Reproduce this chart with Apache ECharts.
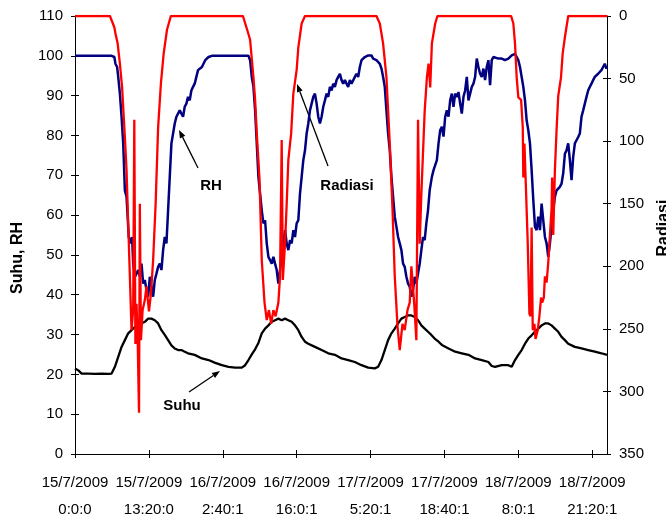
<!DOCTYPE html>
<html>
<head>
<meta charset="utf-8">
<script src="https://cdn.jsdelivr.net/npm/echarts@6/dist/echarts.min.js"></script>
<style>
  html, body { margin: 0; background: #fff; }
  #chart { width: 666px; height: 520px; }
</style>
</head>
<body>
<div id="chart"></div>
<script>
// hours counted from 15/7/2009 0:0:0, one tick label every 13h20m
const xTickLabels = [
  '15/7/2009\n0:0:0', '15/7/2009\n13:20:0', '16/7/2009\n2:40:1', '16/7/2009\n16:0:1',
  '17/7/2009\n5:20:1', '17/7/2009\n18:40:1', '18/7/2009\n8:0:1', '18/7/2009\n21:20:1'
];
const leftTicks = { min: 0, max: 110, step: 10 };
const rightTicks = { min: 0, max: 350, step: 50 };

// [hour, RH]
const rh = [
  [0,100],[6.6,100],[7.1,99.7],[7.3,98.0],[7.6,97.2],[7.8,94.7],[8.1,90.5],[8.4,84.7],[8.7,78.0],[9.0,66.2],
  [9.3,64.6],[9.5,59.6],[9.7,54.5],[10.1,52.9],[10.3,54.5],[10.5,47.8],[10.8,44.5],[11.1,45.3],[11.4,46.2],[11.7,44.5],
  [12.0,47.8],[12.3,42.8],[12.6,43.7],[12.9,41.2],[13.2,39.5],[13.5,44.5],[13.8,42.0],[14.1,39.5],[14.4,43.7],[14.7,45.3],
  [15.0,47.0],[15.3,47.8],[15.6,46.2],[15.9,51.2],[16.2,54.5],[16.5,52.9],[16.8,61.2],[17.1,69.6],[17.4,78.0],[17.7,80.5],
  [18.0,83.0],[18.3,84.7],[18.6,84.7],[18.9,86.3],[19.2,85.5],[19.5,84.7],[19.8,87.2],[20.1,88.0],[20.4,89.7],[20.7,88.8],
  [21.0,91.3],[21.3,92.2],[21.6,93.0],[21.9,94.7],[22.2,96.4],[22.9,97.2],[23.5,98.9],[24.1,99.7],[24.7,100],[31.3,100],
  [31.6,98.9],[31.9,94.7],[32.2,92.2],[32.5,86.3],[32.8,78.0],[33.1,69.6],[33.4,65.4],[33.7,61.2],[34.0,57.9],[34.3,58.7],
  [34.6,52.9],[34.9,49.5],[35.2,48.7],[35.5,47.8],[35.8,49.5],[36.1,47.8],[36.4,46.2],[36.7,42.8],[37.0,46.2],[37.3,49.5],
  [37.6,52.9],[37.9,56.2],[38.2,52.9],[38.5,51.2],[38.8,53.7],[39.1,52.9],[39.4,56.2],[39.7,54.5],[40.0,57.9],[40.3,58.7],
  [40.6,65.4],[40.9,69.6],[41.2,73.8],[41.5,76.2],[41.8,80.5],[42.1,83.0],[42.4,86.3],[42.7,88.0],[43.0,89.7],[43.3,90.5],
  [43.6,88.0],[43.9,84.7],[44.2,83.0],[44.5,84.7],[44.8,87.2],[45.1,88.8],[45.4,90.5],[45.7,89.7],[46.0,92.2],[46.3,91.3],
  [46.6,93.0],[46.9,92.2],[47.2,93.9],[47.5,94.7],[47.8,95.5],[48.1,93.9],[48.4,93.0],[48.7,93.9],[49.0,93.0],[49.3,92.2],
  [49.6,93.9],[49.9,93.0],[50.2,93.5],[50.5,94.7],[50.8,95.5],[51.1,94.7],[51.4,97.2],[51.7,98.9],[52.0,99.3],[52.3,99.7],
  [52.9,100.1],[53.2,99.7],[53.5,100.1],[53.8,99.3],[54.1,99.7],[54.4,98.9],[54.7,98.4],[55.0,98.0],[55.3,96.8],[55.6,94.7],
  [55.9,92.2],[56.2,86.3],[56.5,80.5],[56.8,76.3],[57.1,69.6],[57.4,64.6],[57.7,59.6],[58.0,57.1],[58.3,54.5],[58.6,52.9],
  [58.9,51.2],[59.2,47.8],[59.5,47.0],[59.8,44.5],[60.1,42.8],[60.4,42.0],[60.7,39.5],[61.0,41.2],[61.3,44.5],[61.6,42.8],
  [61.9,45.3],[62.2,47.8],[62.5,51.2],[62.8,54.5],[63.1,53.7],[63.4,57.9],[63.7,61.2],[64.0,66.2],[64.4,69.6],[64.7,71.3],
  [65.0,71.0],[65.3,73.8],[65.6,78.0],[65.9,81.3],[66.2,82.2],[66.5,79.7],[66.8,84.7],[67.1,86.3],[67.4,84.7],[67.7,88.8],
  [68.0,90.5],[68.3,87.2],[68.6,90.5],[68.9,89.7],[69.2,90.9],[69.5,88.0],[69.8,85.5],[70.1,89.7],[70.4,91.3],[70.7,94.7],
  [71.0,88.8],[71.3,90.5],[71.6,92.2],[71.9,93.0],[72.2,94.7],[72.5,99.3],[72.8,97.2],[73.1,95.5],[73.4,94.7],[73.7,96.8],
  [74.0,93.9],[74.3,97.2],[74.6,98.9],[74.9,92.6],[75.2,98.9],[75.5,99.7],[75.8,99.7],[76.4,99.3],[77.0,99.3],[77.6,98.9],
  [77.9,98.4],[78.2,99.3],[78.8,100.1],[79.4,100.5],[79.7,99.7],[80.0,98.9],[80.3,97.2],[80.6,94.7],[80.9,92.2],[81.2,88.8],
  [81.5,83.8],[81.8,81.3],[82.1,78.0],[82.4,71.3],[82.7,63.8],[83.0,57.1],[83.3,56.2],[83.6,59.6],[83.9,56.2],[84.2,62.9],
  [84.5,58.7],[84.8,54.5],[85.1,52.9],[85.4,49.5],[85.7,52.9],[86.0,57.1],[86.3,61.2],[86.6,64.6],[86.9,66.2],[87.2,66.2],
  [87.5,67.1],[87.8,67.9],[88.1,70.5],[88.4,75.4],[88.7,76.3],[89.0,78.0],[89.3,73.8],[89.6,68.8],[89.9,74.6],[90.2,78.0],
  [90.5,78.8],[90.8,79.6],[91.1,80.5],[91.4,84.7],[91.7,86.3],[92.0,88.0],[92.3,89.7],[92.6,91.3],[92.9,92.2],[93.2,93.0],
  [93.5,93.9],[93.8,94.7],[94.4,95.5],[95.0,96.4],[95.3,97.2],[95.6,98.0],[95.9,96.8],[96.0,97.2]
];

// [hour, Radiasi] (right axis, drawn inverted)
const radiasi = [
  [0,0],[6.3,0],[6.6,1],[7.1,9],[7.3,14],[7.7,22],[8.1,38],[8.5,57],[9.0,97],[9.3,123],[9.6,166],[9.9,208],
  [10.2,251],[10.5,235],[10.7,83],[10.9,262],[11.1,230],[11.3,256],[11.55,317],[11.7,150],[11.9,259],[12.2,235],
  [12.6,227],[12.9,216],[13.35,236],[13.7,222],[14.1,195],[14.55,150],[15.0,89],[15.5,54],[16.0,30],[16.6,11],[17.3,0],
  [30.3,0],[31.0,10],[31.6,19],[32.2,49],[32.5,67],[32.8,94],[33.3,131],[33.7,195],[34.2,229],[34.6,243],[35.0,235],
  [35.4,246],[35.8,235],[36.2,240],[36.7,229],[37.0,208],[37.3,99],[37.5,211],[37.9,182],[38.2,150],[38.5,115],
  [39.0,94],[39.4,62],[40.0,43],[40.3,25],[40.9,6],[41.5,0],
  [54.4,0],[55.0,6],[55.6,22],[56.2,49],[56.8,102],[57.3,155],[57.7,208],[58.2,248],[58.6,267],[59.1,246],[59.5,251],
  [60.0,235],[60.4,229],[60.7,200],[61.2,229],[61.6,259],[61.9,83],[62.2,182],[62.5,142],[63.1,76],[63.5,49],
  [63.8,38],[64.1,57],[64.4,22],[65.0,6],[65.4,0],
  [78.7,0],[79.1,6],[79.4,22],[79.7,49],[80.0,65],[80.5,67],[80.8,89],[80.9,129],[81.1,102],[81.3,128],[81.7,182],
  [82.0,238],[82.2,240],[82.4,169],[82.6,251],[82.9,246],[83.1,258],[83.5,251],[83.8,240],[84.1,225],[84.3,229],
  [84.6,225],[84.8,208],[85.1,213],[85.4,197],[85.7,175],[86.0,154],[86.1,129],[86.3,175],[86.6,123],[86.9,91],
  [87.2,64],[87.7,49],[88.0,30],[88.4,17],[89.0,0],[96.0,0]
];

// [hour, Suhu]
const suhu = [
  [0,21.5],[0.6,21.0],[1.2,20.2],[2.4,20.2],[3.6,20.1],[4.8,20.2],[6.0,20.1],[6.6,20.2],[7.2,21.9],[7.8,24.4],
  [8.4,26.9],[9.0,28.6],[9.6,30.3],[10.2,31.1],[10.8,31.9],[11.4,32.3],[12.0,32.8],[12.6,33.2],[13.2,34.0],[13.8,34.0],
  [14.4,33.6],[15.0,32.8],[15.6,31.1],[16.2,29.9],[16.8,28.6],[17.4,27.3],[18.0,26.5],[18.6,26.1],[19.2,26.1],[19.8,25.7],
  [20.4,25.3],[21.6,24.9],[22.9,24.0],[24.1,23.6],[25.3,22.9],[26.5,22.3],[27.7,21.9],[28.9,21.7],[30.1,21.7],[30.7,22.3],
  [31.3,23.6],[31.9,25.0],[32.5,26.3],[33.1,27.9],[33.7,30.3],[34.3,31.5],[34.9,32.3],[35.5,33.2],[36.1,33.6],[36.7,34.0],
  [37.3,33.6],[37.9,34.0],[38.5,33.6],[39.1,33.2],[39.7,32.3],[40.3,31.1],[40.9,29.4],[41.5,28.2],[42.1,27.7],[43.3,26.9],
  [44.5,26.1],[45.7,25.3],[46.9,24.9],[48.1,24.0],[49.3,23.6],[50.5,23.1],[51.7,22.3],[52.9,21.7],[54.1,21.5],[54.7,21.9],
  [55.3,23.6],[55.9,26.1],[56.5,28.6],[57.1,30.3],[57.7,31.5],[58.3,32.8],[58.9,34.0],[59.5,34.4],[60.1,34.8],[60.7,34.8],
  [61.3,34.4],[61.9,33.6],[62.5,32.3],[63.1,31.5],[63.7,30.7],[64.3,29.9],[64.9,29.0],[65.6,28.2],[66.2,27.4],[67.4,26.5],
  [68.6,25.7],[69.8,25.3],[71.0,24.9],[72.2,24.0],[73.4,23.6],[74.6,23.1],[75.2,22.1],[75.8,21.9],[77.0,22.3],[78.2,22.3],
  [78.8,21.9],[79.4,23.6],[80.0,24.9],[80.6,26.1],[81.2,27.7],[81.8,29.0],[82.4,29.8],[83.0,30.7],[83.6,31.5],[84.2,32.3],
  [84.8,32.8],[85.4,32.8],[86.0,32.3],[86.6,31.5],[87.2,30.7],[87.8,29.4],[88.4,28.6],[89.0,27.7],[90.2,26.9],[91.4,26.5],
  [92.6,26.1],[93.8,25.7],[95.0,25.3],[96.0,24.9]
];

const FONT = '"Liberation Sans", Arial, sans-serif';
const TICK_STEP = 800;          // minutes between x labels
const X_MAX = 96 * 60;          // data runs to 19/7 0:00
const toMinutes = arr => arr.map(p => [p[0] * 60, p[1]]);

const chart = echarts.init(document.getElementById('chart'));

function xAxisCfg(inside) {
  return {
    type: 'value', min: 0, max: X_MAX, interval: TICK_STEP, position: 'bottom',
    axisLine: { show: !inside, onZero: false, lineStyle: { color: '#000', width: 1 } },
    axisTick: { show: true, inside: inside, length: 4, lineStyle: { color: '#000' } },
    axisLabel: {
      show: !inside, margin: 15, lineHeight: 27, color: '#000', fontSize: 15, fontFamily: FONT,
      showMaxLabel: false,
      formatter: v => (v % TICK_STEP === 0 && xTickLabels[v / TICK_STEP]) || ''
    },
    splitLine: { show: false }
  };
}

function yAxisCfg(t, pos, inverse, inside) {
  return {
    type: 'value', min: t.min, max: t.max, interval: t.step, position: pos, inverse: inverse,
    axisLine: { show: !inside, onZero: false, lineStyle: { color: '#000', width: 1 } },
    axisTick: { show: true, inside: inside, length: 4, lineStyle: { color: '#000' } },
    axisLabel: { show: !inside, margin: 12, color: '#000', fontSize: 15, fontFamily: FONT },
    splitLine: { show: false }
  };
}

function arrow(x1, y1, x2, y2) {
  // line from tail (x1,y1) to tip (x2,y2) with a filled head
  const a = Math.atan2(y2 - y1, x2 - x1), L = 8, W = 3;
  const bx = x2 - L * Math.cos(a), by = y2 - L * Math.sin(a);
  return [
    { type: 'line', shape: { x1: x1, y1: y1, x2: bx, y2: by }, style: { stroke: '#000', lineWidth: 1.3 } },
    { type: 'polygon', shape: { points: [[x2, y2],
        [bx + W * Math.sin(a), by - W * Math.cos(a)], [bx - W * Math.sin(a), by + W * Math.cos(a)]] },
      style: { fill: '#000' } }
  ];
}

function label(text, x, y, size, rot) {
  return {
    type: 'text', x: x, y: y, rotation: rot || 0,
    style: { text: text, fill: '#000', font: 'bold ' + size + 'px ' + FONT,
             align: 'center', verticalAlign: 'middle', textAlign: 'center', textVerticalAlign: 'middle' }
  };
}

chart.setOption({
  backgroundColor: '#fff',
  animation: false,
  grid: { left: 75, right: 59, top: 16, bottom: 66, containLabel: false, outerBoundsMode: 'none' },
  xAxis: [xAxisCfg(false), xAxisCfg(true)],
  yAxis: [
    yAxisCfg(leftTicks, 'left', false, false),
    yAxisCfg(rightTicks, 'right', true, false),
    yAxisCfg(leftTicks, 'left', false, true),
    yAxisCfg(rightTicks, 'right', true, true)
  ],
  series: [
    { name: 'Suhu', type: 'line', yAxisIndex: 0, data: toMinutes(suhu), showSymbol: false,
      lineStyle: { color: '#000', width: 2.3 }, itemStyle: { color: '#000' } },
    { name: 'RH', type: 'line', yAxisIndex: 0, data: toMinutes(rh), showSymbol: false,
      lineStyle: { color: '#000080', width: 2.5 }, itemStyle: { color: '#000080' } },
    { name: 'Radiasi', type: 'line', yAxisIndex: 1, data: toMinutes(radiasi), showSymbol: false,
      lineStyle: { color: '#ff0000', width: 2.3 }, itemStyle: { color: '#ff0000' } }
  ],
  graphic: [
    label('Suhu, RH', 18, 258, 16, Math.PI / 2),
    label('Radiasi', 664, 228, 16, Math.PI / 2),
    label('RH', 211, 186, 15),
    label('Radiasi', 347, 186, 15),
    label('Suhu', 182, 406, 15),
    ...arrow(198, 168, 179, 130),
    ...arrow(328, 166, 297, 84),
    ...arrow(189, 392, 220, 371)
  ]
});
</script>
</body>
</html>
